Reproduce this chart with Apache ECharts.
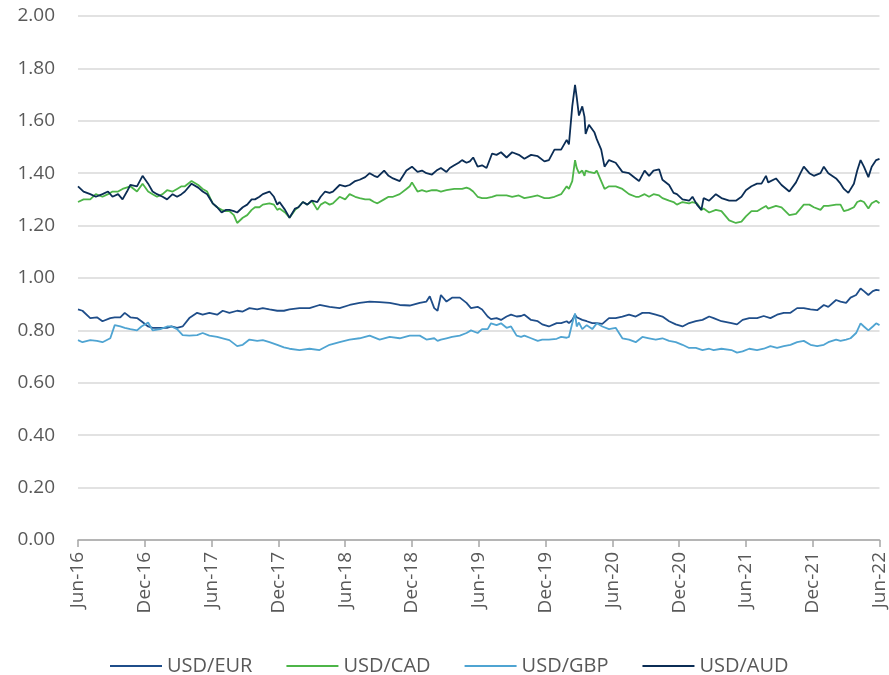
<!DOCTYPE html>
<html lang="en">
<head>
    <meta charset="UTF-8">
    <title>USD exchange rates</title>
    <script src="https://cdn.jsdelivr.net/npm/echarts@6/dist/echarts.min.js"></script>
    <style>
        html, body { margin: 0; height: 100%; background: #fff; }
        #main { width: 889px; height: 675px; }
    </style>
</head>
<body>
<div id="main"></div>
<script>
    // x = months since Jun-16, y = rate
    var tickLabels = ['Jun-16', 'Dec-16', 'Jun-17', 'Dec-17', 'Jun-18', 'Dec-18', 'Jun-19',
        'Dec-19', 'Jun-20', 'Dec-20', 'Jun-21', 'Dec-21', 'Jun-22'];
    var seriesNames = ['USD/EUR', 'USD/CAD', 'USD/GBP', 'USD/AUD'];

    var usdEur = [[0,0.88],[0.4,0.875],[1.1,0.847],[1.7,0.85],[2.2,0.835],[2.9,0.847],[3.3,0.85],[3.8,0.85],[4.2,0.867],[4.7,0.85],[5.3,0.847],[5.7,0.835],[6.3,0.815],[6.7,0.81],[7.4,0.81],[8,0.81],[8.4,0.815],[8.9,0.81],[9.4,0.815],[10,0.847],[10.7,0.867],[11.2,0.86],[11.8,0.867],[12.5,0.86],[13,0.875],[13.6,0.867],[14.3,0.875],[14.8,0.872],[15.4,0.885],[16.1,0.88],[16.6,0.885],[17.2,0.88],[17.9,0.875],[18.5,0.875],[19,0.88],[19.9,0.885],[20.8,0.885],[21.7,0.897],[22.6,0.89],[23.5,0.885],[24.4,0.897],[25.3,0.905],[26.2,0.91],[27.1,0.908],[28,0.905],[28.9,0.897],[29.8,0.895],[30.7,0.905],[31.3,0.91],[31.6,0.93],[32,0.885],[32.3,0.875],[32.6,0.935],[33.1,0.91],[33.6,0.925],[34.3,0.925],[34.9,0.905],[35.3,0.885],[35.9,0.89],[36.3,0.88],[36.8,0.853],[37.1,0.843],[37.6,0.847],[38,0.84],[38.5,0.853],[38.9,0.86],[39.4,0.853],[39.8,0.855],[40.1,0.86],[40.7,0.84],[41.3,0.835],[41.7,0.823],[42.3,0.815],[43,0.828],[43.4,0.828],[43.9,0.835],[44.1,0.828],[44.4,0.84],[44.65,0.86],[44.8,0.85],[45.3,0.84],[45.7,0.835],[46.2,0.828],[46.6,0.828],[47.1,0.825],[47.7,0.847],[48.3,0.847],[48.9,0.853],[49.5,0.86],[50.1,0.853],[50.7,0.867],[51.3,0.867],[51.9,0.86],[52.5,0.853],[53.1,0.835],[53.7,0.823],[54.3,0.815],[54.9,0.828],[55.5,0.835],[56.1,0.84],[56.7,0.853],[57.1,0.847],[57.8,0.835],[58.7,0.828],[59.2,0.823],[59.7,0.84],[60.3,0.847],[61,0.847],[61.6,0.855],[62.2,0.847],[62.8,0.86],[63.4,0.867],[64,0.867],[64.6,0.885],[65.2,0.885],[65.8,0.88],[66.4,0.877],[67,0.897],[67.4,0.89],[68.1,0.916],[68.5,0.91],[69,0.905],[69.4,0.925],[69.9,0.935],[70.3,0.96],[70.6,0.95],[71,0.935],[71.4,0.95],[71.7,0.955],[72,0.953]];

    var usdCad = [[0,1.29],[0.5,1.30],[1.1,1.30],[1.6,1.32],[2.2,1.31],[2.7,1.32],[3.1,1.33],[3.6,1.33],[4,1.34],[4.7,1.35],[5.3,1.33],[5.8,1.36],[6.3,1.33],[6.7,1.32],[7.1,1.31],[7.6,1.32],[8,1.335],[8.5,1.33],[8.9,1.34],[9.3,1.35],[9.6,1.35],[10.2,1.37],[10.8,1.355],[11.2,1.34],[11.6,1.33],[12.1,1.285],[12.5,1.27],[12.9,1.26],[13.3,1.255],[13.6,1.255],[14,1.24],[14.3,1.21],[14.8,1.23],[15.2,1.24],[15.6,1.26],[15.9,1.27],[16.3,1.27],[16.6,1.28],[17.2,1.285],[17.6,1.28],[17.9,1.26],[18.1,1.265],[18.6,1.25],[19,1.23],[19.5,1.26],[19.8,1.27],[20.2,1.29],[20.6,1.28],[21,1.295],[21.5,1.26],[21.8,1.28],[22.2,1.29],[22.6,1.28],[22.9,1.285],[23.5,1.31],[24,1.30],[24.4,1.32],[24.9,1.31],[25.3,1.305],[25.8,1.30],[26.2,1.30],[26.6,1.29],[26.9,1.285],[27.5,1.30],[27.9,1.31],[28.3,1.31],[28.9,1.32],[29.5,1.34],[29.8,1.35],[30,1.365],[30.5,1.33],[30.9,1.335],[31.3,1.33],[31.8,1.335],[32.2,1.335],[32.6,1.33],[33.1,1.335],[33.8,1.34],[34.5,1.34],[34.9,1.345],[35.2,1.34],[35.5,1.33],[35.9,1.31],[36.3,1.305],[36.7,1.305],[37.2,1.31],[37.6,1.315],[38,1.315],[38.5,1.315],[39,1.31],[39.6,1.315],[40.1,1.305],[40.7,1.31],[41.3,1.315],[41.9,1.305],[42.3,1.305],[42.8,1.31],[43.4,1.32],[43.9,1.35],[44.1,1.34],[44.4,1.37],[44.65,1.45],[44.8,1.42],[45,1.40],[45.3,1.41],[45.5,1.39],[45.6,1.41],[45.9,1.405],[46.4,1.40],[46.6,1.41],[47,1.37],[47.3,1.34],[47.7,1.35],[48.3,1.35],[48.9,1.34],[49.5,1.32],[50.1,1.31],[50.4,1.31],[50.9,1.32],[51.3,1.31],[51.7,1.32],[52.2,1.315],[52.5,1.305],[53.1,1.295],[53.5,1.29],[53.8,1.28],[54.3,1.29],[54.9,1.285],[55.2,1.29],[55.6,1.285],[56,1.26],[56.2,1.265],[56.7,1.25],[57.3,1.26],[57.8,1.255],[58.5,1.22],[59.1,1.21],[59.6,1.215],[60,1.235],[60.5,1.255],[61,1.255],[61.4,1.265],[61.8,1.275],[62,1.265],[62.7,1.275],[63.2,1.27],[63.9,1.24],[64.5,1.245],[64.9,1.265],[65.2,1.28],[65.7,1.28],[66.1,1.27],[66.7,1.26],[67,1.275],[67.4,1.275],[68.1,1.28],[68.5,1.28],[68.8,1.255],[69.2,1.26],[69.7,1.27],[70,1.29],[70.3,1.295],[70.6,1.29],[71,1.265],[71.3,1.285],[71.7,1.295],[72,1.285]];

    var usdGbp = [[0,0.763],[0.4,0.755],[1.1,0.763],[1.7,0.76],[2.2,0.755],[2.9,0.77],[3.3,0.82],[3.8,0.815],[4.2,0.81],[4.7,0.805],[5.3,0.80],[5.7,0.815],[6.3,0.83],[6.7,0.80],[7.4,0.805],[8,0.815],[8.4,0.815],[8.9,0.805],[9.4,0.782],[10,0.78],[10.7,0.782],[11.2,0.79],[11.8,0.78],[12.5,0.775],[13,0.77],[13.6,0.763],[14.3,0.74],[14.8,0.745],[15.4,0.765],[16.1,0.76],[16.6,0.763],[17.2,0.755],[17.9,0.745],[18.5,0.735],[19,0.73],[19.9,0.725],[20.8,0.73],[21.7,0.725],[22.6,0.745],[23.5,0.755],[24.4,0.765],[25.3,0.77],[26.2,0.78],[27.1,0.765],[28,0.775],[28.9,0.77],[29.8,0.78],[30.7,0.78],[31.3,0.765],[32,0.77],[32.3,0.76],[32.6,0.765],[33.1,0.77],[33.6,0.775],[34.3,0.78],[34.9,0.79],[35.3,0.80],[35.9,0.79],[36.3,0.805],[36.8,0.805],[37.1,0.827],[37.6,0.82],[38,0.827],[38.5,0.81],[38.9,0.815],[39.4,0.78],[39.8,0.775],[40.1,0.78],[40.7,0.77],[41.3,0.76],[41.7,0.765],[42.3,0.765],[43,0.768],[43.4,0.775],[43.9,0.772],[44.1,0.775],[44.4,0.827],[44.65,0.865],[44.8,0.815],[45,0.83],[45.3,0.805],[45.7,0.82],[46.2,0.805],[46.6,0.827],[47.1,0.815],[47.7,0.805],[48.3,0.81],[48.9,0.77],[49.5,0.765],[50.1,0.755],[50.7,0.775],[51.3,0.77],[51.9,0.765],[52.5,0.77],[53.1,0.76],[53.7,0.755],[54.3,0.745],[54.9,0.733],[55.5,0.733],[56.1,0.725],[56.7,0.73],[57.1,0.725],[57.8,0.73],[58.7,0.725],[59.2,0.715],[59.7,0.72],[60.3,0.73],[61,0.725],[61.6,0.73],[62.2,0.74],[62.8,0.733],[63.4,0.74],[64,0.745],[64.6,0.755],[65.2,0.76],[65.8,0.745],[66.4,0.74],[67,0.745],[67.4,0.755],[68.1,0.765],[68.5,0.76],[69,0.765],[69.4,0.77],[69.9,0.79],[70.3,0.827],[70.6,0.815],[71,0.80],[71.4,0.815],[71.7,0.827],[72,0.82]];

    var usdAud = [[0,1.35],[0.5,1.33],[1.1,1.32],[1.6,1.31],[2.2,1.32],[2.7,1.33],[3.1,1.31],[3.6,1.32],[4,1.30],[4.4,1.33],[4.7,1.355],[5.3,1.35],[5.8,1.39],[6.3,1.36],[6.7,1.33],[7.1,1.32],[7.6,1.31],[8,1.30],[8.5,1.32],[8.9,1.31],[9.3,1.32],[9.6,1.33],[10.2,1.36],[10.8,1.345],[11.2,1.33],[11.6,1.32],[12.1,1.285],[12.5,1.27],[12.9,1.25],[13.3,1.26],[13.6,1.26],[14,1.255],[14.3,1.25],[14.8,1.27],[15.2,1.28],[15.6,1.30],[15.9,1.30],[16.3,1.31],[16.6,1.32],[17.2,1.33],[17.6,1.31],[17.9,1.28],[18.1,1.29],[18.6,1.26],[19,1.23],[19.5,1.265],[19.8,1.27],[20.2,1.29],[20.6,1.28],[21,1.295],[21.5,1.29],[21.8,1.31],[22.2,1.33],[22.6,1.325],[22.9,1.33],[23.5,1.355],[24,1.35],[24.4,1.355],[24.9,1.37],[25.3,1.375],[25.8,1.385],[26.2,1.40],[26.6,1.39],[26.9,1.385],[27.5,1.41],[27.9,1.39],[28.3,1.38],[28.9,1.37],[29.2,1.39],[29.5,1.41],[30,1.425],[30.5,1.405],[30.9,1.41],[31.3,1.40],[31.8,1.395],[32.2,1.41],[32.6,1.42],[33.1,1.405],[33.4,1.42],[33.8,1.43],[34.2,1.44],[34.5,1.45],[34.9,1.44],[35.2,1.445],[35.5,1.46],[35.9,1.425],[36.3,1.43],[36.7,1.42],[37.2,1.475],[37.6,1.47],[38,1.48],[38.5,1.46],[39,1.48],[39.6,1.47],[40.1,1.455],[40.7,1.47],[41.3,1.465],[41.9,1.445],[42.3,1.45],[42.8,1.49],[43.4,1.49],[43.9,1.527],[44.1,1.51],[44.4,1.655],[44.65,1.737],[44.8,1.69],[45,1.62],[45.3,1.655],[45.5,1.615],[45.6,1.55],[45.9,1.585],[46.4,1.555],[46.6,1.53],[47,1.49],[47.3,1.425],[47.7,1.45],[48.3,1.44],[48.9,1.405],[49.5,1.40],[50.1,1.38],[50.4,1.37],[50.9,1.41],[51.3,1.39],[51.7,1.41],[52.2,1.415],[52.5,1.375],[53.1,1.355],[53.5,1.325],[53.8,1.32],[54.3,1.30],[54.9,1.295],[55.2,1.31],[55.6,1.28],[56,1.26],[56.2,1.305],[56.7,1.295],[57.3,1.32],[57.8,1.305],[58.5,1.295],[59.1,1.295],[59.6,1.31],[60,1.335],[60.5,1.35],[61,1.36],[61.4,1.36],[61.8,1.39],[62,1.365],[62.7,1.38],[63.2,1.355],[63.9,1.33],[64.5,1.365],[64.9,1.40],[65.2,1.425],[65.7,1.40],[66.1,1.39],[66.7,1.40],[67,1.425],[67.4,1.40],[68.1,1.38],[68.5,1.36],[68.8,1.34],[69.2,1.325],[69.7,1.36],[70,1.41],[70.3,1.45],[70.6,1.425],[71,1.385],[71.3,1.425],[71.7,1.45],[72,1.455]];

    var colors = ['#1f4e8a', '#4db548', '#4fa4d2', '#0b2d55'];
    var allData = [usdEur, usdCad, usdGbp, usdAud];

    var myChart = echarts.init(document.getElementById('main'));

    var series = [];
    for (var i = 0; i < seriesNames.length; i++) {
        series.push({
            name: seriesNames[i],
            type: 'line',
            data: allData[i],
            symbol: 'none',
            lineStyle: { width: 1.8, color: colors[i] },
            itemStyle: { color: colors[i] }
        });
    }

    var option = {
        animation: false,
        textStyle: { fontFamily: 'Open Sans' },
        grid: { left: 78, right: 8, top: 16, bottom: 135 },
        legend: {
            top: 651,
            left: 105,
            icon: 'rect',
            itemWidth: 52,
            itemHeight: 2,
            itemGap: 34,
            textStyle: { fontSize: 20, color: '#595959', fontFamily: 'Open Sans' },
            data: seriesNames
        },
        xAxis: {
            type: 'value',
            min: 0,
            max: 72,
            interval: 6,
            splitLine: { show: false },
            axisLine: { lineStyle: { color: '#a6a6a6', width: 1.5 } },
            axisTick: { show: true, length: 7, lineStyle: { color: '#a6a6a6', width: 1.5 } },
            axisLabel: {
                rotate: 90,
                margin: 12,
                fontSize: 19,
                color: '#595959',
                formatter: function (v) { return tickLabels[Math.round(v / 6)]; }
            }
        },
        yAxis: {
            type: 'value',
            min: 0,
            max: 2,
            interval: 0.2,
            axisLine: { show: false },
            axisTick: { show: false },
            splitLine: { lineStyle: { color: '#d9d9d9', width: 1.5 } },
            axisLabel: {
                margin: 23,
                fontSize: 19,
                color: '#595959',
                formatter: function (v) { return v.toFixed(2); }
            }
        },
        series: series
    };

    myChart.setOption(option);
</script>
</body>
</html>
